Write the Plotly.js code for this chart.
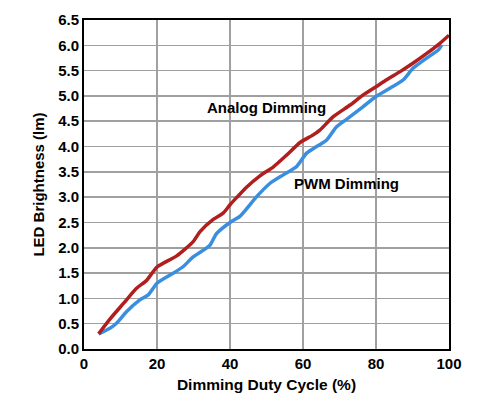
<!DOCTYPE html>
<html>
<head>
<meta charset="utf-8">
<script src="https://cdn.plot.ly/plotly-3.0.1.min.js"></script>
<style>html,body{margin:0;padding:0;background:#fff;}#chart{width:486px;height:412px;}</style>
</head>
<body>
<div id="chart"></div>
<script>
const analogX = [4, 7.1, 10.8, 14.4, 17.2, 20, 25.4, 29.9, 31.8, 35.4, 38.2, 40, 41.8, 44.6, 48.2, 51.9, 55.5, 59.2, 62.8, 64.7, 68.3, 72.9, 76.5, 80, 82.9, 86.6, 90.2, 93.9, 97.5, 100];
const analogY = [0.30, 0.59, 0.90, 1.20, 1.36, 1.62, 1.84, 2.12, 2.32, 2.56, 2.69, 2.85, 2.99, 3.20, 3.42, 3.60, 3.83, 4.08, 4.23, 4.33, 4.59, 4.82, 5.02, 5.18, 5.32, 5.48, 5.65, 5.84, 6.04, 6.20];
const pwmX = [4, 7.1, 8.9, 11.7, 15.3, 17.6, 20, 24.5, 27.2, 29.9, 34.5, 36.3, 40, 42.7, 47.3, 50.9, 54.6, 58.2, 61, 63.7, 66.5, 69.2, 72.9, 76.5, 80, 83.8, 87.5, 90.2, 93.9, 97.1, 98];
const pwmY = [0.30, 0.41, 0.51, 0.74, 0.97, 1.07, 1.30, 1.50, 1.63, 1.82, 2.05, 2.28, 2.50, 2.62, 3.01, 3.27, 3.44, 3.60, 3.87, 4.00, 4.13, 4.39, 4.59, 4.79, 4.99, 5.15, 5.32, 5.55, 5.75, 5.91, 6.01];
const labels = [
  {text: 'Analog Dimming', x: 50.1, y: 4.78},
  {text: 'PWM Dimming', x: 71.8, y: 3.26}
];

const font = 'Liberation Sans, Arial, sans-serif';
const traces = [
  {x: pwmX, y: pwmY, mode: 'lines', name: 'PWM Dimming',
   line: {color: '#3a8ee0', width: 3.5, shape: 'spline', smoothing: 0.6}},
  {x: analogX, y: analogY, mode: 'lines', name: 'Analog Dimming',
   line: {color: '#b01e1e', width: 3.5, shape: 'spline', smoothing: 0.6}}
];

const axisCommon = {
  showgrid: true, gridcolor: '#a0a0a0', gridwidth: 1.5,
  showline: true, linecolor: '#000', linewidth: 2, mirror: true,
  ticks: '', zeroline: false,
  tickfont: {family: font, size: 15, color: '#000', weight: 'bold'}
};

const layout = {
  width: 486, height: 412,
  margin: {l: 84, r: 37, t: 20, b: 63},
  paper_bgcolor: '#fff', plot_bgcolor: '#fff',
  showlegend: false,
  xaxis: Object.assign({}, axisCommon, {
    range: [0, 100], dtick: 20, tick0: 0,
    title: {text: 'Dimming Duty Cycle (%)', font: {family: font, size: 15.5, color: '#000', weight: 'bold'}, standoff: 8}
  }),
  yaxis: Object.assign({}, axisCommon, {
    range: [0, 6.5], dtick: 0.5, tick0: 0, tickformat: '.1f',
    title: {text: 'LED Brightness (lm)', font: {family: font, size: 15, color: '#000', weight: 'bold'}, standoff: 10}
  }),
  annotations: labels.map(l => ({
    x: l.x, y: l.y, xref: 'x', yref: 'y', text: '<b>' + l.text + '</b>', showarrow: false,
    font: {family: font, size: 15, color: '#000'}
  }))
};

Plotly.newPlot('chart', traces, layout, {displayModeBar: false, staticPlot: true});
</script>
</body>
</html>
